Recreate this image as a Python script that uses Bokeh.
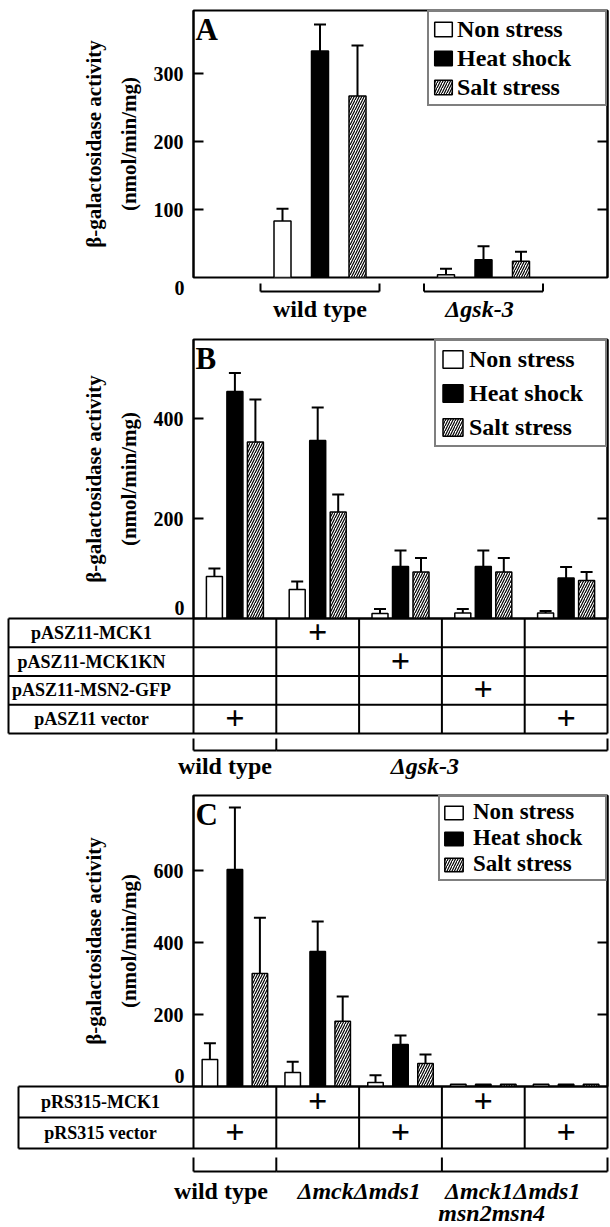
from bokeh.plotting import figure
from bokeh.models import (ColumnDataSource, Range1d, LinearAxis, FixedTicker, Legend,
                          LegendItem, Whisker, TeeHead)
from bokeh.layouts import column
from bokeh.embed import file_html
from bokeh.resources import INLINE
from bokeh.core.properties import value

FONT = "Liberation Serif"
SERIES = ["Non stress", "Heat shock", "Salt stress"]

# ---------------- data ----------------
# Panel A
a_strains = ["wild type", "Δgsk-3"]
a_non = [83, 4]
a_non_err = [18, 9]
a_heat = [333, 26]
a_heat_err = [39, 20]
a_salt = [267, 24]
a_salt_err = [74, 14]
a_ticks = [0, 100, 200, 300]

# Panel B
b_non = [84, 58, 10, 11, 11]
b_non_err = [16, 16, 9, 8, 4]
b_heat = [454, 356, 104, 104, 81]
b_heat_err = [37, 66, 32, 32, 22]
b_salt = [353, 213, 93, 93, 76]
b_salt_err = [85, 35, 28, 28, 17]
b_ticks = [0, 200, 400]
b_plasmids = ["pASZ11-MCK1", "pASZ11-MCK1KN", "pASZ11-MSN2-GFP", "pASZ11 vector"]
b_plus = [[0, 1, 0, 0, 0],
          [0, 0, 1, 0, 0],
          [0, 0, 0, 1, 0],
          [1, 0, 0, 0, 1]]
b_strains = [["wild type"], ["Δgsk-3"]]
b_strain_groups = [[0], [1, 2, 3, 4]]

# Panel C
c_non = [75, 39, 11, 6, 6]
c_non_err = [45, 30, 20, 0, 0]
c_heat = [603, 375, 117, 6, 6]
c_heat_err = [172, 83, 25, 0, 0]
c_salt = [314, 181, 64, 6, 6]
c_salt_err = [155, 69, 25, 0, 0]
c_ticks = [0, 200, 400, 600]
c_plasmids = ["pRS315-MCK1", "pRS315 vector"]
c_plus = [[0, 1, 0, 1, 0],
          [1, 0, 1, 0, 1]]
c_strains = [["wild type"], ["ΔmckΔmds1"], ["Δmck1Δmds1", "msn2msn4"]]
c_strain_groups = [[0], [1, 2], [3, 4]]

# ---------------- layout / style ----------------
W = 610
BL, BR = 193, 3
FRAME_W = W - BL - BR
FRAME_LEFT_PAGE = BL

STYLES = [dict(fill_color="white"),
          dict(fill_color="black"),
          dict(fill_color="white", hatch_pattern="/", hatch_color="black",
               hatch_scale=5, hatch_weight=1.2)]


def chart(x_start, x_end, y_end, top_b, frame_h, bottom_b, ticks):
    p = figure(width=W, height=top_b + frame_h + bottom_b,
               x_range=Range1d(x_start, x_end), y_range=Range1d(0, y_end),
               x_axis_location=None, y_axis_location=None,
               toolbar_location=None, output_backend="svg",
               min_border_left=BL, min_border_right=BR,
               min_border_top=top_b, min_border_bottom=bottom_b)
    p.grid.visible = False
    p.outline_line_color = "black"
    p.outline_line_width = 2
    p.outline_line_alpha = 1
    p.background_fill_color = "white"
    p.border_fill_color = "white"
    nz = [t for t in ticks if t != 0]
    inner = LinearAxis(ticker=FixedTicker(ticks=nz, minor_ticks=[]),
                       major_tick_in=10, major_tick_out=0,
                       minor_tick_in=0, minor_tick_out=0,
                       major_tick_line_width=2, axis_line_width=2,
                       major_label_standoff=10,
                       major_label_text_font=FONT,
                       major_label_text_font_style="bold",
                       major_label_text_font_size="20px",
                       major_label_text_color="black",
                       axis_label="(nmol/min/mg)",
                       axis_label_text_font=FONT,
                       axis_label_text_font_style="bold",
                       axis_label_text_font_size="21px",
                       axis_label_text_color="black",
                       axis_label_standoff=10)
    p.add_layout(inner, "left")
    outer = LinearAxis(ticker=FixedTicker(ticks=[], minor_ticks=[]),
                       axis_line_color=None, major_tick_line_color=None,
                       minor_tick_line_color=None,
                       major_label_text_color=None,
                       major_label_text_font_size="1px",
                       major_label_standoff=0,
                       axis_label="β-galactosidase activity",
                       axis_label_text_font=FONT,
                       axis_label_text_font_style="bold",
                       axis_label_text_font_size="21px",
                       axis_label_text_color="black",
                       axis_label_standoff=8)
    p.add_layout(outer, "left")
    right = LinearAxis(ticker=FixedTicker(ticks=nz, minor_ticks=[]),
                       major_tick_in=10, major_tick_out=0,
                       minor_tick_in=0, minor_tick_out=0,
                       major_tick_line_width=2, axis_line_width=2,
                       major_label_text_color=None,
                       major_label_text_font_size="1px",
                       major_label_standoff=0)
    p.add_layout(right, "right")
    return p


def bars(p, means, errs, offset, width):
    rends = []
    n = len(means[0])
    for j in range(3):
        xs = [g + (j - 1) * offset for g in range(n)]
        src = ColumnDataSource(dict(x=xs, top=means[j]))
        r = p.vbar(x="x", top="top", bottom=0, width=width, source=src,
                   line_color="black", line_width=1.5, **STYLES[j])
        rends.append(r)
        keep = [i for i in range(n) if errs[j][i] > 0]
        wsrc = ColumnDataSource(dict(x=[xs[i] for i in keep],
                                     lo=[means[j][i] for i in keep],
                                     hi=[means[j][i] + errs[j][i] for i in keep]))
        p.add_layout(Whisker(source=wsrc, base="x", lower="lo", upper="hi",
                             line_width=2, line_color="black",
                             upper_head=TeeHead(size=12, line_width=2, line_color="black"),
                             lower_head=None))
    return rends


def legend(p, rends, pad, spacing, gw, gh, lh, standoff, box_w, fsize):
    leg = Legend(items=[LegendItem(label=SERIES[j], renderers=[rends[j]]) for j in range(3)],
                 location="top_right", margin=0, padding=pad, spacing=spacing,
                 glyph_width=gw, glyph_height=gh, label_standoff=standoff,
                 label_width=box_w - 2 * pad - gw - standoff - 8, label_height=lh,
                 label_text_font=FONT, label_text_font_style="bold",
                 label_text_font_size=fsize, label_text_color="black",
                 border_line_color="black", border_line_width=2,
                 background_fill_color="white", background_fill_alpha=1)
    p.add_layout(leg)


def txt(p, xs, ys, texts, size, style="bold", x_offset=0, align="center"):
    p.text(x=xs, y=ys, text=texts, text_font=value(FONT), text_font_style=style,
           text_font_size=size, text_align=align, text_baseline="middle",
           text_color="black", x_offset=x_offset, level="overlay")


def letter(p, t, k):
    p.text(x=[p.x_range.start], y=[p.y_range.end - 1 / k], text=[t],
           text_font=value(FONT), text_font_style="bold", text_font_size="31px",
           text_align="left", text_baseline="top", text_color="black",
           x_offset=2, level="overlay")


def zero_label(p, k, dy_px):
    txt(p, [p.x_range.start], [dy_px / k], ["0"], "20px", x_offset=-9, align="right")


def seg(p, x0, x1, y0, y1, w=2):
    p.segment(x0=x0, x1=x1, y0=y0, y1=y1, line_color="black", line_width=w,
              level="overlay")


def table(p, k, ppu, rows, plus, left_page, row_h, label_center_page, n):
    x_left = -0.5 - (FRAME_LEFT_PAGE - left_page) / ppu
    nr = len(rows)
    ys = [-i * row_h / k for i in range(nr + 1)]
    seg(p, [x_left] * (nr + 1), [n - 0.5] * (nr + 1), ys, ys)
    xv = [x_left] + [i - 0.5 for i in range(n + 1)]
    seg(p, xv, xv, [0] * len(xv), [ys[-1]] * len(xv))
    yc = [-(i + 0.5) * row_h / k for i in range(nr)]
    xl = -0.5 - (FRAME_LEFT_PAGE - label_center_page) / ppu
    txt(p, [xl] * nr, yc, rows, "18px")
    px, py = [], []
    for r in range(nr):
        for g in range(n):
            if plus[r][g]:
                px.append(g)
                py.append(yc[r] + 1 / k)
    txt(p, px, py, ["+"] * len(px), "34px")
    return ys[-1]


def spans_brackets(p, k, groups, base_y, top_px, bot_px):
    x0 = [g[0] - 0.5 for g in groups]
    x1 = [g[-1] + 0.5 for g in groups]
    yb = base_y - bot_px / k
    seg(p, x0, x1, [yb] * len(x0), [yb] * len(x0))
    bounds = sorted(set(x0 + x1))
    seg(p, bounds, bounds, [base_y - top_px / k] * len(bounds), [yb] * len(bounds))


# ---------------- Panel A ----------------
kA = 0.68
hA = 267
ppuA = 163.5
xa0 = -(319.5 - FRAME_LEFT_PAGE) / ppuA
xa1 = xa0 + FRAME_W / ppuA
pA = chart(xa0, xa1, hA / kA, 10, hA, 61, a_ticks)
rA = bars(pA, [a_non, a_heat, a_salt], [a_non_err, a_heat_err, a_salt_err],
          37.5 / ppuA, 17 / ppuA)
legend(pA, rA, 3, 1, 22, 18, 28, 3, 184, "24px")
letter(pA, "A", kA)
zero_label(pA, kA, -10)
half = 59.5 / ppuA
ga = list(range(len(a_strains)))
seg(pA, [g - half for g in ga], [g + half for g in ga], [-14 / kA] * 2, [-14 / kA] * 2)
vx = [g - half for g in ga] + [g + half for g in ga]
seg(pA, vx, vx, [-6 / kA] * 4, [-14 / kA] * 4)
txt(pA, [0], [-31 / kA], [a_strains[0]], "24px", "bold")
txt(pA, [1], [-31 / kA], [a_strains[1]], "24px", "bold italic", x_offset=-4)

# ---------------- Panel B ----------------
kB = 0.5
hB = 279
ppuB = FRAME_W / 5
pB = chart(-0.5, 4.5, hB / kB, 1, hB, 176, b_ticks)
rB = bars(pB, [b_non, b_heat, b_salt], [b_non_err, b_heat_err, b_salt_err],
          20.5 / ppuB, 16 / ppuB)
legend(pB, rB, 4, 6, 25, 22, 28, 4, 177, "24px")
letter(pB, "B", kB)
zero_label(pB, kB, 11)
yB = table(pB, kB, ppuB, b_plasmids, b_plus, 8, 28.75, 91, 5)
spans_brackets(pB, kB, b_strain_groups, yB, 5, 17)
lxB = [(g[0] + g[-1]) / 2 for g in b_strain_groups]
txt(pB, [lxB[0]], [yB - 32 / kB], [b_strains[0][0]], "24px", "bold", x_offset=-10)
txt(pB, [lxB[1]], [yB - 32 / kB], [b_strains[1][0]], "24px", "bold italic", x_offset=-17)

# ---------------- Panel C ----------------
kC = 0.36
hC = 291
ppuC = FRAME_W / 5
pC = chart(-0.5, 4.5, hC / kC, 1, hC, 141, c_ticks)
rC = bars(pC, [c_non, c_heat, c_salt], [c_non_err, c_heat_err, c_salt_err],
          25 / ppuC, 15.5 / ppuC)
legend(pC, rC, 2, 0, 23, 17, 25, 8, 173, "23px")
letter(pC, "C", kC)
zero_label(pC, kC, 11)
yC = table(pC, kC, ppuC, c_plasmids, c_plus, 18, 31, 100, 5)
spans_brackets(pC, kC, c_strain_groups, yC, 9, 23)
lxC = [(g[0] + g[-1]) / 2 for g in c_strain_groups]
txt(pC, [lxC[0]], [yC - 42 / kC], [c_strains[0][0]], "24px", "bold", x_offset=-14)
txt(pC, [lxC[1]], [yC - 42 / kC], [c_strains[1][0]], "24px", "bold italic")
txt(pC, [lxC[2]], [yC - 42 / kC], [c_strains[2][0]], "24px", "bold italic", x_offset=-12)
txt(pC, [lxC[2]], [yC - 64 / kC], [c_strains[2][1]], "24px", "bold italic", x_offset=-33)

page = column(pA, pB, pC)
open("out.html", "w").write(file_html(page, INLINE))
